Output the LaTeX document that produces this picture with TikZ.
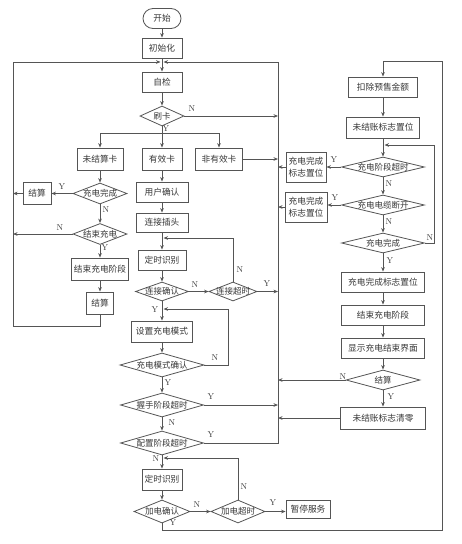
\documentclass[tikz,border=0pt]{standalone}
\usepackage{fontspec}
\newfontfamily\cjk{Noto Sans CJK SC}
\usetikzlibrary{shapes.geometric,arrows.meta}
\definecolor{lc}{RGB}{85,85,85}
\definecolor{tc}{RGB}{55,55,55}
\tikzset{
  box/.style={draw=lc, line width=0.8pt, rectangle, inner sep=0pt, font=\cjk\fontsize{8.7}{12}\selectfont, text=tc, align=center},
  dia/.style={draw=lc, line width=0.8pt, diamond, inner sep=0pt, font=\cjk\fontsize{8.5}{11}\selectfont, text=tc},
  arr/.style={draw=lc, line width=0.8pt, -{Stealth[length=4.5pt,width=3.6pt]}},
  plain/.style={draw=lc, line width=0.8pt},
  yn/.style={font=\fontsize{8.5}{9}\selectfont, text=tc, inner sep=0pt},
}
\newcommand{\zt}[1]{\makebox[0pt]{#1}}
\begin{document}
\begin{tikzpicture}[x=1pt,y=-1pt]
\useasboundingbox (0,0) rectangle (461,544);
\fill[white] (0,0) rectangle (461,544);
% coordinates
\coordinate (jtop) at (162,62);
\coordinate (busL) at (13,62);
\coordinate (busR) at (278,62);
\coordinate (busRR) at (442,61);
\coordinate (split) at (162,133);
\coordinate (j1) at (162,238);
\coordinate (j2) at (162,309);
\coordinate (j3) at (162,458);
\coordinate (j4) at (383,145);
% main column
\node[box,rounded corners=10pt,minimum width=38pt,minimum height=20pt] (start) at (162,18.5) {开始};
\node[box,minimum width=40pt,minimum height=20pt] (init) at (162,48) {初始化};
\node[box,minimum width=40pt,minimum height=20pt] (check) at (162,82) {自检};
\node[dia,minimum width=44pt,minimum height=20pt] (swipe) at (162,116) {\zt{刷卡}};
\node[box,minimum width=46pt,minimum height=22pt] (unset) at (100,159) {未结算卡};
\node[box,minimum width=40pt,minimum height=22pt] (valid) at (162,159) {有效卡};
\node[box,minimum width=47pt,minimum height=22pt] (invalid) at (219,159) {非有效卡};
\node[dia,minimum width=54pt,minimum height=21pt] (cdone1) at (100,193.5) {\zt{充电完成}};
\node[box,minimum width=28pt,minimum height=22pt] (settle1) at (37,193.5) {结算};
\node[dia,minimum width=54pt,minimum height=21pt] (endchg) at (100,234) {\zt{结束充电}};
\node[box,minimum width=57pt,minimum height=22pt] (endstage) at (100,269) {结束充电阶段};
\node[box,minimum width=27pt,minimum height=22pt] (settle2) at (100,303) {结算};
\node[box,minimum width=52pt,minimum height=20pt] (confirm) at (162,192) {用户确认};
\node[box,minimum width=52pt,minimum height=19pt] (plug) at (162,222.5) {连接插头};
\node[box,minimum width=48pt,minimum height=20pt] (timer1) at (162,260) {定时识别};
\node[dia,minimum width=53pt,minimum height=19pt] (connok) at (162,291.5) {\zt{连接确认}};
\node[dia,minimum width=48pt,minimum height=19pt] (conntimeout) at (233,291.5) {\zt{连接超时}};
\node[box,minimum width=61pt,minimum height=21pt] (setmode) at (162,331.5) {设置充电模式};
\node[dia,minimum width=84pt,minimum height=24pt] (modeok) at (162,365) {\zt{充电模式确认}};
\node[dia,minimum width=83pt,minimum height=24pt] (hs) at (162,405) {\zt{握手阶段超时}};
\node[dia,minimum width=83pt,minimum height=24pt] (cfg) at (162,443) {\zt{配置阶段超时}};
\node[box,minimum width=40pt,minimum height=21pt] (timer2) at (162,479.5) {定时识别};
\node[dia,minimum width=56pt,minimum height=23pt] (powok) at (162,511.5) {\zt{加电确认}};
\node[dia,minimum width=54pt,minimum height=23pt] (powto) at (238,511.5) {\zt{加电超时}};
\node[box,minimum width=44pt,minimum height=18pt] (pause) at (308,509) {暂停服务};
% right column
\node[box,minimum width=69pt,minimum height=20pt] (deduct) at (383,87) {扣除预售金额};
\node[box,minimum width=73pt,minimum height=21pt] (unflag) at (383,127.5) {未结账标志置位};
\node[dia,minimum width=83pt,minimum height=20pt] (stage) at (383,167) {\zt{充电阶段超时}};
\node[box,minimum width=40pt,minimum height=30pt] (flag1) at (306,167) {充电完成\\标志置位};
\node[dia,minimum width=83pt,minimum height=20pt] (cable) at (383,205) {\zt{充电电缆断开}};
\node[box,minimum width=42pt,minimum height=30pt] (flag2) at (306,207) {充电完成\\标志置位};
\node[dia,minimum width=83pt,minimum height=20pt] (cdone2) at (383,243) {\zt{充电完成}};
\node[box,minimum width=83pt,minimum height=20pt] (flag3) at (383,282) {充电完成标志置位};
\node[box,minimum width=83pt,minimum height=20pt] (endstage2) at (383,315) {结束充电阶段};
\node[box,minimum width=83pt,minimum height=20pt] (show) at (383,348) {显示充电结束界面};
\node[dia,minimum width=74pt,minimum height=20pt] (settle3) at (383,380) {\zt{结算}};
\node[box,minimum width=85pt,minimum height=22pt] (clear) at (383,418) {未结账标志清零};
% connectors main
\draw[arr] (start) -- (init);
\draw[plain] (init.south) -- (jtop);
\draw[arr] (jtop) -- (check);
\draw[arr] (check) -- (swipe);
\draw[arr] (swipe.east) -- (swipe.east -| busR);
\draw[plain] (swipe.south) -- (split);
\draw[arr] (split) -| (unset.north);
\draw[arr] (split) -- (valid.north);
\draw[arr] (split) -| (invalid.north);
\draw[arr] (invalid.east) -- (invalid.east -| busR);
\draw[arr] (unset) -- (cdone1);
\draw[arr] (cdone1.west) -- (settle1.east);
\draw[arr] (settle1.west) -- (settle1.west -| busL);
\draw[arr] (cdone1.south) -- (endchg.north);
\draw[arr] (endchg.west) -- (endchg.west -| busL);
\draw[arr] (endchg.south) -- (endstage.north);
\draw[arr] (endstage) -- (settle2);
\draw[arr] (settle2.south) -- ++(0,12) -| (busL) -- ([xshift=-1.5pt]jtop);
\draw[arr] (valid) -- (confirm);
\draw[arr] (confirm) -- (plug);
\draw[arr] (plug) -- (timer1);
\draw[arr] (timer1) -- (connok);
\draw[arr] (connok.east) -- (conntimeout.west);
\draw[arr] (conntimeout.east) -- (conntimeout.east -| busR);
\draw[arr] (conntimeout.north) |- ([xshift=1.5pt]j1);
\draw[arr] (connok.south) -- (setmode.north);
\draw[arr] (setmode) -- (modeok);
\draw[arr] (modeok.east) -- ++(24,0) |- ([xshift=1.5pt]j2);
\draw[arr] (modeok.south) -- (hs.north);
\draw[arr] (hs.east) -- (hs.east -| busR);
\draw[arr] (hs.south) -- (cfg.north);
\draw[arr] (cfg.east) -- (cfg.east -| busR) -- (busR) -- ([xshift=1.5pt]jtop);
\draw[arr] (cfg.south) -- (timer2.north);
\draw[arr] (powto.north) |- ([xshift=1.5pt]j3);
\draw[arr] (timer2) -- (powok);
\draw[arr] (powok.east) -- (powto.west);
\draw[arr] (powto.east) -- (powto.east -| pause.west);
\draw[arr] (powok.south) -- ++(0,7) -| (busRR) -| (deduct.north);
% connectors right
\draw[arr] (deduct) -- (unflag);
\draw[arr] (unflag) -- (stage);
\draw[arr] (cdone2.east) -- ++(9.5,0) |- ([xshift=1.5pt]j4);
\draw[arr] (stage.west) -- (flag1.east);
\draw[arr] (flag1.west) -- (flag1.west -| busR);
\draw[arr] (stage.south) -- (cable.north);
\draw[arr] (cable.west) -- (cable.west -| flag2.east);
\draw[arr] (flag2.west) -- (flag2.west -| busR);
\draw[arr] (cable.south) -- (cdone2.north);
\draw[arr] (cdone2.south) -- (flag3.north);
\draw[arr] (flag3) -- (endstage2);
\draw[arr] (endstage2) -- (show);
\draw[arr] (show) -- (settle3);
\draw[arr] (settle3.west) -- (settle3.west -| busR);
\draw[arr] (settle3.south) -- (clear.north);
\draw[arr] (clear.west) -- (clear.west -| busR);
% labels
\node[yn] (l1) at (192,109) {N};
\node[yn] (l2) at (166,129) {Y};
\node[yn] (l3) at (62,187) {Y};
\node[yn] (l4) at (106,210) {N};
\node[yn] (l5) at (60,228) {N};
\node[yn] (l6) at (105,248) {Y};
\node[yn] (l7) at (195,285) {N};
\node[yn] (l8) at (155,310) {Y};
\node[yn] (l9) at (240,270) {N};
\node[yn] (l10) at (267,284) {Y};
\node[yn] (l11) at (215,358) {N};
\node[yn] (l12) at (168,383) {Y};
\node[yn] (l13) at (211,397) {Y};
\node[yn] (l14) at (172,423) {N};
\node[yn] (l15) at (211,435) {Y};
\node[yn] (l16) at (156,459) {N};
\node[yn] (l17) at (197,505) {N};
\node[yn] (l18) at (173,523) {Y};
\node[yn] (l19) at (244,487) {N};
\node[yn] (l20) at (273,503) {Y};
\node[yn] (l21) at (334,160) {Y};
\node[yn] (l22) at (389,184) {N};
\node[yn] (l23) at (335,198) {Y};
\node[yn] (l24) at (389,222) {N};
\node[yn] (l25) at (430,238) {N};
\node[yn] (l26) at (390,261) {Y};
\node[yn] (l27) at (343,377) {N};
\node[yn] (l28) at (391,397) {Y};
\end{tikzpicture}
\end{document}
